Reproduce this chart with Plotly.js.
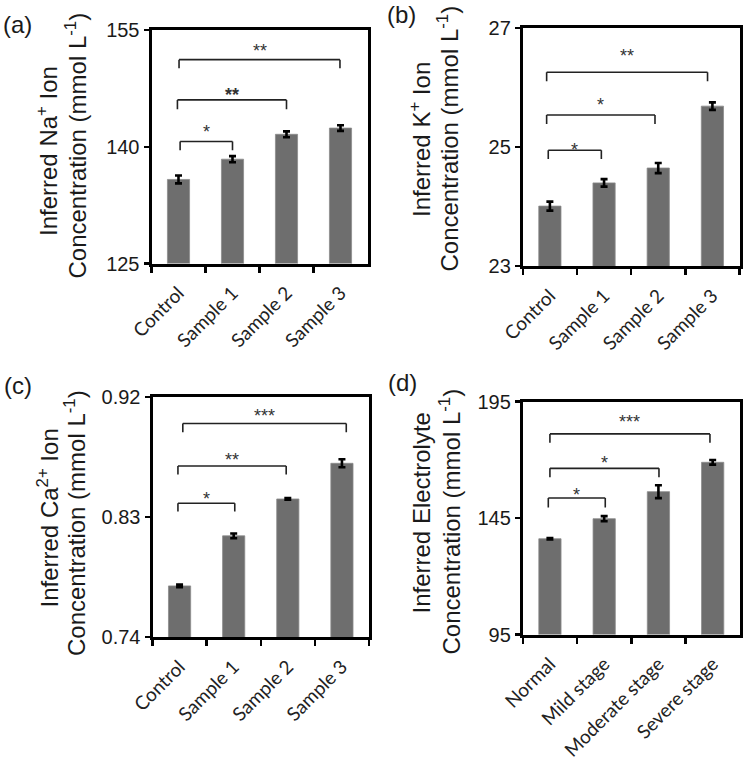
<!DOCTYPE html>
<html>
<head>
<meta charset="utf-8">
<script src="https://cdn.plot.ly/plotly-3.0.1.min.js"></script>
<style>html,body{margin:0;padding:0;background:#fff;}#chart{width:746px;height:764px;}</style>
</head>
<body>
<div id="chart"></div>
<script>
// ---------- data ----------
const sampleCats = ['Control', 'Sample 1', 'Sample 2', 'Sample 3'];
const stageCats = ['Normal', 'Mild stage', 'Moderate stage', 'Severe stage'];

const naValues = [135.8, 138.4, 141.6, 142.4];
const naErr = [0.5, 0.4, 0.38, 0.36];
const kValues = [24.01, 24.40, 24.65, 25.69];
const kErr = [0.076, 0.063, 0.085, 0.063];
const caValues = [0.7784, 0.8159, 0.8435, 0.8702];
const caErr = [0.001, 0.0018, 0.0006, 0.003];
const elValues = [136.1, 144.7, 156.3, 168.9];
const elErr = [0.3, 1.1, 2.75, 1.0];

const naTicks = [125, 140, 155];
const kTicks = [23, 25, 27];
const caTicks = [0.74, 0.83, 0.92];
const elTicks = [95, 145, 195];

// significance brackets: [from, to, line level, leg end, label level, label]
const naBrackets = [[0.03, 1.0, 140.68, 139.54, 142.5, '*'], [-0.02, 2.0, 146.02, 144.83, 147.25, '<b>**</b>'], [0.01, 2.99, 151.19, 150.08, 152.97, '**']];
const kBrackets = [[-0.03, 0.95, 24.95, 24.80, 25.04, '*'], [-0.06, 1.94, 25.54, 25.39, 25.79, '*'], [-0.06, 2.91, 26.26, 26.11, 26.61, '**']];
const caBrackets = [[-0.03, 1.02, 0.8403, 0.8342, 0.8475, '*'], [-0.03, 1.97, 0.8682, 0.8618, 0.8761, '**'], [0.06, 3.08, 0.9000, 0.8934, 0.9094, '***']];
const elBrackets = [[-0.03, 1.02, 153.6, 149.5, 156.9, '*'], [0.0, 2.01, 166.3, 162.5, 170.7, '*'], [0.0, 2.95, 181.1, 177.3, 188.2, '***']];

const titlesA = ['Inferred Na<sup>+</sup> Ion', 'Concentration (mmol L<sup>-1</sup>)'];
const titlesB = ['Inferred K<sup>+</sup> Ion', 'Concentration (mmol L<sup>-1</sup>)'];
const titlesC = ['Inferred Ca<sup>2+</sup> Ion', 'Concentration (mmol L<sup>-1</sup>)'];
const titlesD = ['Inferred Electrolyte', 'Concentration (mmol L<sup>-1</sup>)'];
const panelLabels = ['(a)', '(b)', '(c)', '(d)'];

// ---------- layout helpers ----------
const W = 746, H = 764;
const fx = p => p / W;
const fy = p => 1 - p / H;

const panels = [
  {s: '', cats: sampleCats, vals: naValues, errs: naErr, br: naBrackets, ticks: naTicks, titles: titlesA, label: panelLabels[0],
   box: {l: 151.5, r: 367.5, t: 30, b: 263.5}, t1: [47, 151], t2: [75, 145.5], lab: [1, 24]},
  {s: '2', cats: sampleCats, vals: kValues, errs: kErr, br: kBrackets, ticks: kTicks, titles: titlesB, label: panelLabels[1],
   box: {l: 522.8, r: 739.5, t: 28.2, b: 266.2}, t1: [420, 140], t2: [448, 138.5], lab: [385, 15]},
  {s: '3', cats: sampleCats, vals: caValues, errs: caErr, br: caBrackets, ticks: caTicks, titles: titlesC, label: panelLabels[2],
   box: {l: 152.5, r: 369, t: 396.8, b: 637.2}, t1: [47, 518.5], t2: [75, 523], lab: [2, 385]},
  {s: '4', cats: stageCats, vals: elValues, errs: elErr, br: elBrackets, ticks: elTicks, titles: titlesD, label: panelLabels[3],
   box: {l: 522.8, r: 739.8, t: 401.5, b: 634.5}, t1: [421, 513.5], t2: [449.5, 522], lab: [386, 382]}
];

const tickFont = {family: 'Liberation Sans, Arial, sans-serif', size: 20, color: '#1a1a1a'};
const catFont = {family: 'Lato, Open Sans, sans-serif', size: 19, color: '#222'};
const titleFont = {family: 'Liberation Sans, Arial, sans-serif', size: 24, color: '#1a1a1a'};
const starFont = {family: 'Liberation Sans, Arial, sans-serif', size: 18, color: '#333'};

const data = [];
const layout = {
  width: W, height: H,
  margin: {l: 0, r: 0, t: 0, b: 0},
  paper_bgcolor: '#fff', plot_bgcolor: '#fff',
  showlegend: false,
  bargap: 0.59,
  shapes: [], annotations: []
};

panels.forEach(p => {
  const xa = 'x' + p.s, ya = 'y' + p.s;
  data.push({
    type: 'bar', x: p.cats, y: p.vals, xaxis: xa, yaxis: ya,
    marker: {color: '#6e6e6e', line: {color: '#8c8c8c', width: 0.8}},
    error_y: {type: 'data', array: p.errs, visible: true, color: '#000', thickness: 2.6, width: 3.5},
    hoverinfo: 'none'
  });
  const r0 = p.ticks[0], r1 = p.ticks[p.ticks.length - 1];
  layout['xaxis' + p.s] = {
    domain: [fx(p.box.l), fx(p.box.r)], anchor: ya,
    type: 'category', range: [-0.5, 3.5],
    showline: true, linecolor: '#000', linewidth: 3, mirror: true,
    ticks: 'outside', tickson: 'boundaries', ticklen: 6, tickwidth: 2.5, tickcolor: '#000',
    tickangle: -45, tickfont: catFont, ticklabelstandoff: 8,
    showgrid: false, zeroline: false, fixedrange: true
  };
  layout['yaxis' + p.s] = {
    domain: [fy(p.box.b), fy(p.box.t)], anchor: xa,
    range: [r0, r1], tickvals: p.ticks, ticktext: p.ticks.map(String),
    showline: true, linecolor: '#000', linewidth: 3, mirror: true,
    ticks: 'outside', ticklen: 5, tickwidth: 2.5, tickcolor: '#000',
    tickfont: tickFont, showgrid: false, zeroline: false, fixedrange: true
  };
  p.br.forEach(b => {
    const ln = {type: 'line', xref: xa, yref: ya, line: {color: '#222', width: 1.6}};
    layout.shapes.push(Object.assign({}, ln, {x0: b[0], x1: b[1], y0: b[2], y1: b[2]}));
    layout.shapes.push(Object.assign({}, ln, {x0: b[0], x1: b[0], y0: b[3], y1: b[2]}));
    layout.shapes.push(Object.assign({}, ln, {x0: b[1], x1: b[1], y0: b[3], y1: b[2]}));
    layout.annotations.push({
      xref: xa, yref: ya, x: (b[0] + b[1]) / 2, y: b[4], text: b[5], showarrow: false,
      xanchor: 'center', yanchor: 'middle', yshift: -5, font: starFont
    });
  });
  [[p.titles[0], p.t1], [p.titles[1], p.t2]].forEach(t => {
    layout.annotations.push({
      xref: 'paper', yref: 'paper', x: fx(t[1][0]), y: fy(t[1][1]), text: t[0], textangle: -90,
      showarrow: false, xanchor: 'center', yanchor: 'middle', font: titleFont
    });
  });
  layout.annotations.push({
    xref: 'paper', yref: 'paper', x: fx(p.lab[0]), y: fy(p.lab[1]), text: p.label,
    showarrow: false, xanchor: 'left', yanchor: 'middle',
    font: {family: 'Liberation Sans, Arial, sans-serif', size: 24, color: '#1a1a1a'}
  });
});

Plotly.newPlot('chart', data, layout, {staticPlot: true, displayModeBar: false});
</script>
</body>
</html>
